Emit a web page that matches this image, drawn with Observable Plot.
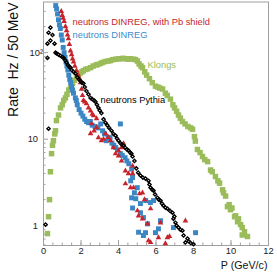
<!DOCTYPE html>
<html>
<head>
<meta charset="utf-8">
<script src="https://cdn.jsdelivr.net/npm/d3@7"></script>
<script src="https://cdn.jsdelivr.net/npm/@observablehq/plot@0.6"></script>
<style>
  html, body { margin: 0; padding: 0; background: white; }
  #chart svg { display: block; }
</style>
</head>
<body>
<div id="chart"></div>
<script>
// ---- data (P in GeV/c, rate in Hz / 50 MeV) ----
const klongs = [
  [0.21,0.81],[0.27,1.27],[0.32,2.0],[0.37,4.2],[0.43,6.8],[0.48,8.5],[0.53,9.6],[0.6,11.5],
  [0.64,12.5],[0.69,16.4],[0.8,19],[0.91,23],[1.0,25],[1.08,28],[1.17,30],[1.25,33],[1.35,37],
  [1.44,39],[1.55,44],[1.65,48],[1.76,51],[1.85,55],[1.95,58],[2.05,60],[2.13,62],[2.25,64],
  [2.35,65],[2.51,67],[2.65,70],[2.8,72],[2.9,73],[3.04,75],[3.15,77],[3.3,79],[3.45,80],
  [3.57,81],[3.7,83],[3.85,84],[4.0,85],[4.11,85],[4.25,86],[4.4,85],[4.5,84],[4.64,85],
  [4.8,84],[4.9,83],[5.01,80],[5.1,74],[5.2,70],[5.28,67],[5.4,60],[5.5,55],[5.65,50],
  [5.8,45],[5.97,41],[6.1,40],[6.2,39],[6.35,38],[6.5,34],[6.6,32],[6.77,29],[6.9,25],
  [6.99,23],[7.1,21],[7.2,19],[7.3,17.5],[7.41,16],[7.55,15],[7.7,14],[7.85,13.5],[7.95,13],
  [8.05,10.7],[8.1,9.5],[8.21,7.6],[8.35,7],[8.48,6.3],[8.6,5.8],[8.75,5.5],[8.91,4.4],
  [9.0,4.2],[9.17,3.7],[9.3,3.3],[9.39,3.1],[9.55,2.6],[9.6,2.4],[9.71,2.2],[9.81,1.66],
  [9.9,1.75],[9.97,1.53],[10.05,1.6],[10.19,1.27],[10.25,1.3],[10.35,1.11],[10.4,1.2],
  [10.51,1.03],[10.6,0.95],[10.72,0.85],[10.6,0.78],[10.88,0.75]
];
const dinreg = [
  [0.65,350],[0.7,320],[0.75,280],[0.8,240],[0.85,210],[0.9,190],[0.95,160],[1.0,140],
  [1.05,115],[1.1,100],[1.15,88],[1.2,78],[1.25,70],[1.3,63],[1.35,55],[1.4,49],[1.45,45],
  [1.5,40],[1.55,37],[1.6,34],[1.7,30],[1.75,28],[1.8,25],[1.9,22],[2.0,20],[2.1,18.5],
  [2.2,17],[2.3,16],[2.4,15.5],[2.5,16],[2.6,14.5],[2.75,14],[2.9,13.5],[3.05,15],[3.15,12.5],
  [3.25,11.5],[3.35,9.6],[3.45,10.5],[3.55,10.4],[3.65,9.0],[3.75,8.5],[3.85,8.0],[3.95,7.5],
  [4.1,6.8],[4.1,15],[4.2,6.5],[4.35,6.1],[4.45,5.6],[4.55,5.2],[4.65,3.3],[4.7,4.5],
  [4.75,3.6],[4.7,2.1],[4.75,1.6],[4.85,2.4],[5.0,2.75],[4.92,2.05],[5.17,1.8],[5.45,1.95],
  [5.7,1.85],[5.87,1.95],[5.17,1.41],[5.33,1.24],[5.55,1.05],[6.24,1.14],[6.13,0.92],
  [5.97,0.83],[5.44,0.83],[5.33,0.77],[5.07,0.84],[6.93,0.95],[8.11,0.83]
];
const dinregPb = [
  [0.95,300],[1.0,270],[1.05,250],[1.1,230],[1.17,200],[1.23,180],[1.28,160],[1.33,145],
  [1.38,125],[1.44,105],[1.5,95],[1.55,85],[1.6,78],[1.67,70],[1.76,62],[1.85,55],[1.92,50],
  [1.97,45],[2.03,38],[2.08,32],[2.13,28],[2.2,27],[2.29,25.7],[2.4,23],[2.51,21.3],[2.6,19.5],
  [2.67,18.7],[2.83,17.3],[2.56,15.1],[2.83,13.6],[2.51,11.6],[2.7,12.5],[2.93,10.4],[3.09,9.6],
  [3.2,10],[3.31,11.6],[3.45,10.5],[3.57,9.6],[3.73,8.0],[3.84,6.8],[4.0,6.4],[4.0,7.35],
  [4.16,8.0],[4.27,8.9],[4.16,5.6],[4.37,4.3],[4.53,4.0],[4.37,3.06],[4.64,2.75],[4.75,4.9],
  [4.75,4.0],[4.8,2.75],[5.12,2.34],[5.39,2.0],[5.28,2.4],[5.01,1.49],[5.07,1.3],[5.28,1.2],
  [5.71,1.57],[5.55,1.05],[6.24,1.08],[6.13,0.73],[6.61,0.73],[6.72,0.75],[6.5,0.62],
  [7.57,1.14],[5.6,0.67],[5.71,0.64]
];
const pythia = [
  [0.11,1.03],[0.27,13.2],[0.21,87],[0.21,127],[0.59,127],[0.37,138],[0.48,160],[0.27,170],
  [0.37,195],[0.64,100],[0.7,98],[0.8,95],[0.9,92],[1.0,89],[1.07,87],[1.15,82],[1.23,77],
  [1.3,72],[1.37,69],[1.44,67],[1.5,63],[1.6,60],[1.71,57],[1.8,52],[1.9,49],[1.97,47],
  [2.05,45],[2.13,44],[2.2,40],[2.29,36],[2.4,33],[2.51,30],[2.6,29],[2.7,28],[2.77,27],
  [2.85,25],[2.93,23],[3.0,21.5],[3.09,20],[3.2,17],[3.3,15.5],[3.4,14.5],[3.5,13.5],
  [3.63,12.5],[3.73,11.5],[3.84,11],[3.92,10.2],[4.0,9.6],[4.1,9.0],[4.18,8.7],[4.27,8.4],
  [4.35,8.0],[4.45,7.6],[4.53,7.4],[4.62,7.0],[4.69,6.8],[4.75,6.3],[4.85,5.6],[4.95,4.6],
  [5.05,4.1],[5.17,3.8],[5.3,3.6],[5.44,3.5],[5.6,3.3],[5.65,3.0],[5.71,2.75],[5.8,2.6],
  [5.87,2.54],[5.95,2.3],[6.08,2.1],[6.15,2.0],[6.24,1.95],[6.32,1.8],[6.4,1.7],[6.5,1.62],
  [6.61,1.57],[6.75,1.48],[6.88,1.41],[6.93,1.2],[6.98,1.28],[7.04,1.08],[7.1,1.0],[7.2,0.95],
  [7.3,0.9],[7.41,0.875],[7.47,0.77],[7.57,0.64],[7.68,0.71],[7.75,0.66],[7.85,0.63],[8.0,0.61]
];
const xMajor = [0, 2, 4, 6, 8, 10, 12];
const xMinor = d3.range(0, 12.01, 0.5);
const yMajor = [1, 10, 100];
const yMajorLabels = ["1", "10", "10²"];
const yMinor = [0.6,0.7,0.8,0.9,2,3,4,5,6,7,8,9,20,30,40,50,60,70,80,90,200,300];
const legendNames = ["neutrons DINREG, with Pb shield", "neutrons DINREG", "Klongs", "neutrons Pythia"];
const legendX = [1.55, 1.55, 5.55, 3.04];
const legendY = [228, 161, 72.6, 28.6];
const legendColors = ["#c4262d", "#3a8bcc", "#94bb55", "#000000"];
const xTitle = "P (GeV/c)";
const yTitle = "Rate  Hz / 50 MeV";

// ---- layout ----
const W = 277, H = 272, mL = 43, mR = 9, mT = 1.5, mB = 27;
const fw = W - mL - mR, fh = H - mT - mB;
const axisColor = "#a0a0a0";
const legend = legendNames.map((t, i) => ({t, x: legendX[i], y: legendY[i], c: legendColors[i]}));

const chart = Plot.plot({
  width: W, height: H,
  marginLeft: mL, marginRight: mR, marginTop: mT, marginBottom: mB,
  x: {domain: [0, 12], axis: null},
  y: {type: "log", domain: [0.59, 385], axis: null},
  style: {fontFamily: "'Liberation Sans', Arial, sans-serif", fontSize: "9.3px", background: "white", overflow: "visible"},
  marks: [
    Plot.frame({stroke: axisColor}),
    Plot.ruleX(xMinor, {x: d => d, stroke: axisColor, insetTop: fh - 2.5}),
    Plot.ruleX(xMajor, {x: d => d, stroke: axisColor, insetTop: fh - 5}),
    Plot.ruleY(yMinor, {y: d => d, stroke: axisColor, insetRight: fw - 2.5}),
    Plot.ruleY(yMajor, {y: d => d, stroke: axisColor, insetRight: fw - 5}),
    Plot.text(xMajor, {x: d => d, frameAnchor: "bottom", lineAnchor: "top", dy: 2, text: d => String(d), fill: "#222"}),
    Plot.text(yMajor.slice(0, 2), {y: d => d, frameAnchor: "left", textAnchor: "end", dx: -5.5, text: (d, i) => yMajorLabels[i], fill: "#222"}),
    Plot.text(yMajor.slice(2), {y: d => d, frameAnchor: "left", textAnchor: "end", dx: -0.5, text: (d, i) => yMajorLabels[2 + i], fill: "#222"}),
    Plot.text([yTitle], {frameAnchor: "top-left", rotate: -90, textAnchor: "end", dx: -35.5, dy: 0.5, fontSize: 14, fill: "#111", text: d => d}),
    Plot.text([xTitle], {frameAnchor: "bottom-right", textAnchor: "end", lineAnchor: "bottom", dx: -1, dy: 23, fontSize: 10.7, fill: "#111", text: d => d}),
    Plot.dot(klongs, {x: d => d[0], y: d => d[1], symbol: "square", r: 3.1, fill: "#9bbc5a"}),
    Plot.dot(dinreg, {x: d => d[0], y: d => d[1], symbol: "square", r: 2.8, fill: "#3b86c4"}),
    Plot.dot(dinregPb, {x: d => d[0], y: d => d[1], symbol: "triangle", r: 2.1, fill: "#c8232b"}),
    Plot.dot(pythia, {x: d => d[0], y: d => d[1], symbol: "diamond2", r: 1.5, fill: "none", stroke: "#000", strokeWidth: 1.3}),
    Plot.text(legend, {x: "x", y: "y", text: "t", fill: "c", textAnchor: "start"})
  ]
});
document.getElementById("chart").appendChild(chart);
</script>
</body>
</html>
